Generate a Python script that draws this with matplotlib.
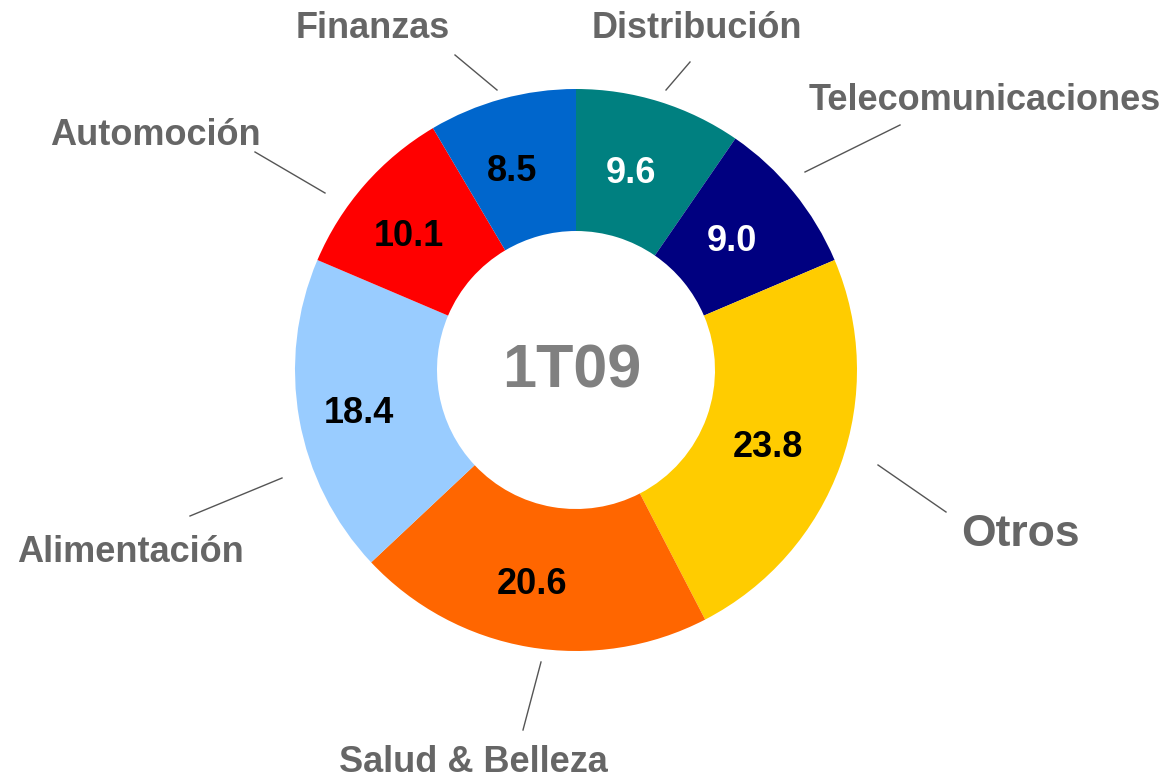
import numpy as np
import matplotlib
matplotlib.use("Agg")
import matplotlib.pyplot as plt

# ---- data ----
categories = ["Distribución", "Telecomunicaciones", "Otros", "Salud & Belleza",
              "Alimentación", "Automoción", "Finanzas"]
values = [9.6, 9.0, 23.8, 20.6, 18.4, 10.1, 8.5]
colors = ["#008080", "#000080", "#FFCC00", "#FF6600", "#99CCFF", "#FF0000", "#0066CC"]
value_text_colors = ["white", "white", "black", "black", "black", "black", "black"]
center_label = "1T09"

# ---- layout (pixel coords, y measured from top) ----
W, H = 1171, 778
CX, CY = 576, 370
R_OUT, R_IN = 281, 139
VAL_DX, VAL_DY = -8, -6
label_pos = {
    "Finanzas": (373, 28, 26),
    "Distribución": (697, 28, 26),
    "Telecomunicaciones": (985, 100, 26),
    "Automoción": (155, 135, 26),
    "Alimentación": (130, 553, 26),
    "Salud & Belleza": (473, 762, 26),
    "Otros": (1020, 535, 32),
}
leader = {
    "Finanzas": ((455, 55), (497, 90)),
    "Distribución": ((690, 62), (666, 90)),
    "Telecomunicaciones": ((900, 125), (805, 172)),
    "Automoción": ((255, 152), (325, 193)),
    "Alimentación": ((190, 516), (282, 478)),
    "Salud & Belleza": ((523, 730), (541, 662)),
    "Otros": ((946, 512), (878, 465)),
}

def P(x, y):
    return x, H - y

plt.rcParams['font.family'] = ['Liberation Sans', 'DejaVu Sans']
fig = plt.figure(figsize=(W / 100, H / 100), dpi=100)
ax = fig.add_axes([0, 0, 1, 1])

cx, cy = P(CX, CY)
wedges, _ = ax.pie(values, colors=colors, startangle=90, counterclock=False,
                   center=(cx, cy), radius=R_OUT, frame=True,
                   wedgeprops=dict(width=R_OUT - R_IN, linewidth=0))
ax.set_xlim(0, W)
ax.set_ylim(0, H)
ax.set_aspect("equal")
ax.axis("off")

r_lab = (R_OUT + R_IN) / 2 + 2
for w, v, tc in zip(wedges, values, value_text_colors):
    ang = np.deg2rad((w.theta1 + w.theta2) / 2)
    ax.text(cx + r_lab * np.cos(ang) + VAL_DX, cy + r_lab * np.sin(ang) + VAL_DY,
            f"{v:.1f}", ha="center", va="center", fontsize=26,
            fontweight="bold", color=tc)

ax.text(cx - 4, cy - 2, center_label, ha="center", va="center", fontsize=44,
        fontweight="bold", color="#808080")

for cat in categories:
    x, y, fs = label_pos[cat]
    ax.text(*P(x, y), cat, ha="center", va="center", fontsize=fs,
            fontweight="bold", color="#666666")
    (x1, y1), (x2, y2) = leader[cat]
    ax.plot([P(x1, y1)[0], P(x2, y2)[0]], [P(x1, y1)[1], P(x2, y2)[1]],
            color="#555555", lw=1)

fig.savefig("out.png", dpi=100)
